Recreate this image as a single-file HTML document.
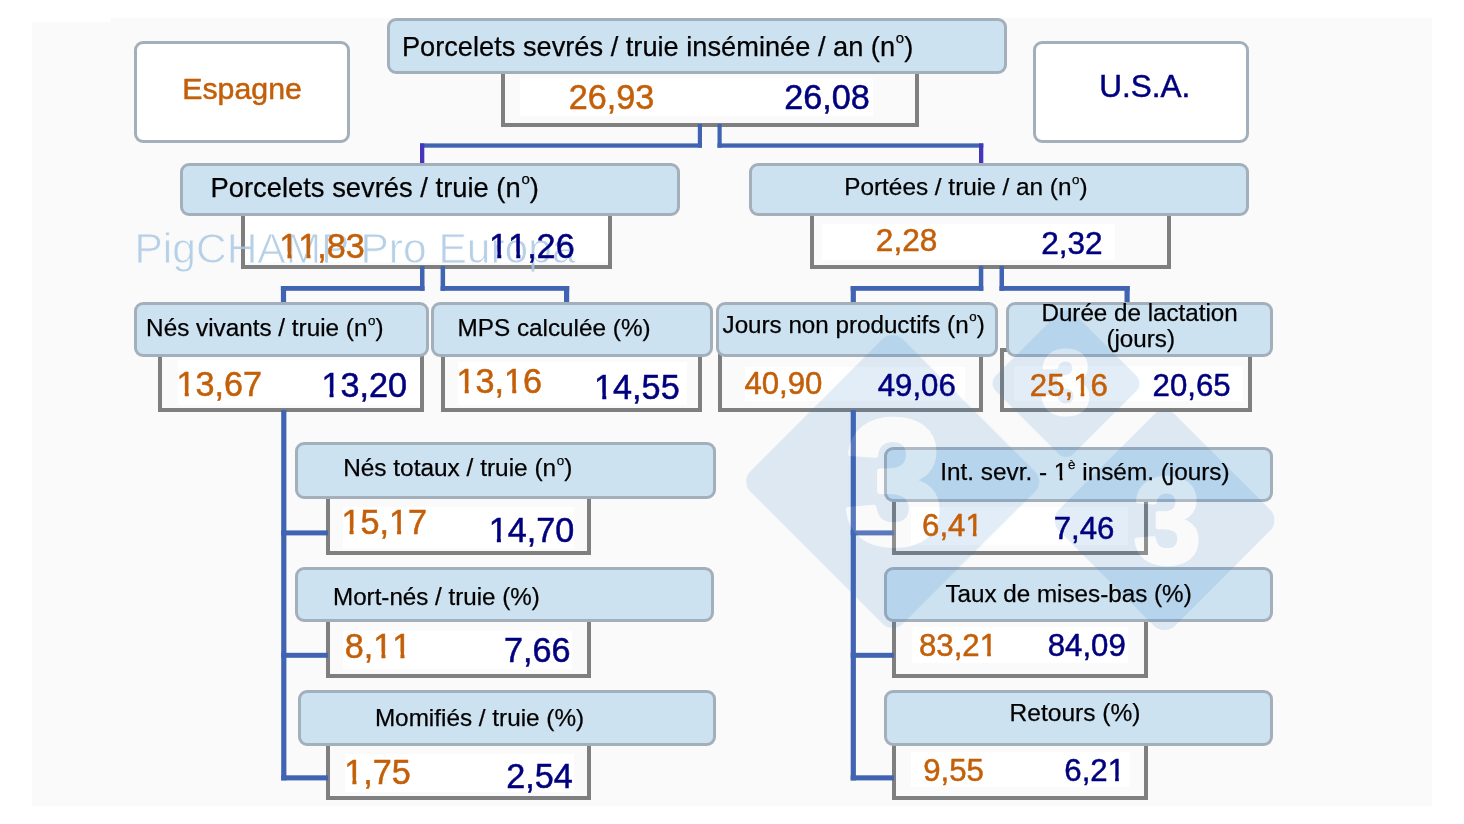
<!DOCTYPE html>
<html lang="fr"><head><meta charset="utf-8"><title>PigCHAMP Pro Europa - Espagne / U.S.A.</title>
<style>
html,body{margin:0;padding:0;background:#fff;}
body{width:1464px;height:824px;position:relative;overflow:hidden;font-family:"Liberation Sans",sans-serif;}
.panel{position:absolute;left:32px;top:17.5px;width:1400px;height:788px;background:#fafafa;}
.lbl{position:absolute;box-sizing:border-box;background:#cde2f0;border:3.8px solid #a3b0bc;border-radius:9px;}
.val{position:absolute;box-sizing:border-box;border:4px solid #7f7f7f;}
.in{position:absolute;background:#fff;}
.cty{position:absolute;box-sizing:border-box;background:#fff;border:3.8px solid #a3b0bc;border-radius:9px;}
.t{position:absolute;white-space:nowrap;margin:0;}
.l{-webkit-text-stroke:0.25px currentColor;}
.v,.c{-webkit-text-stroke:0.5px currentColor;}
.o{display:inline-block;clip-path:polygon(0 0,100% 0,100% 66%,64% 66%,64% 100%,43% 100%,43% 66%,0 66%);}
.sup{font-size:55%;position:relative;top:-0.88em;margin-left:0.05em;}
.wm{position:absolute;white-space:nowrap;color:#b7d1e7;opacity:.8;}
svg{position:absolute;left:0;top:0;}
</style></head><body>
<div class="panel"></div>
<div style="position:absolute;left:32px;top:17px;width:78.5px;height:4.9px;background:#fff"></div>
<div class="cty" style="left:134px;top:41px;width:215.5px;height:101.5px"></div>
<div class="cty" style="left:1033px;top:41px;width:216px;height:101.5px"></div>
<div class="in" style="left:520px;top:77.7px;width:353px;height:37.9px"></div>
<div class="in" style="left:244.7px;top:216px;width:363.1px;height:46px"></div>
<div class="in" style="left:822px;top:224px;width:292.5px;height:36px"></div>
<div class="in" style="left:177.5px;top:360px;width:242.2px;height:45px"></div>
<div class="in" style="left:458px;top:362px;width:228.5px;height:43px"></div>
<div class="in" style="left:745px;top:366.7px;width:219.6px;height:34.3px"></div>
<div class="in" style="left:1014px;top:365.7px;width:228.6px;height:35.3px"></div>
<div class="in" style="left:343px;top:506.7px;width:231px;height:42.1px"></div>
<div class="in" style="left:343px;top:630.6px;width:229px;height:38.2px"></div>
<div class="in" style="left:344.9px;top:753.6px;width:229.4px;height:38.3px"></div>
<div class="in" style="left:910.9px;top:506.7px;width:217px;height:38.3px"></div>
<div class="in" style="left:911.8px;top:627px;width:216.1px;height:36px"></div>
<div class="in" style="left:911px;top:752px;width:218.5px;height:35px"></div>
<div class="val" style="left:501.4px;top:60px;width:417.4px;height:66.5px"></div>
<div class="val" style="left:240.7px;top:200px;width:371.1px;height:68.5px"></div>
<div class="val" style="left:810px;top:200px;width:360.5px;height:68.5px"></div>
<div class="val" style="left:158.3px;top:348px;width:265.4px;height:64px"></div>
<div class="val" style="left:440.8px;top:348px;width:261.5px;height:64px"></div>
<div class="val" style="left:718.3px;top:348px;width:264.4px;height:64px"></div>
<div class="val" style="left:999.8px;top:348px;width:252.4px;height:64px"></div>
<div class="val" style="left:326.1px;top:490px;width:264.5px;height:65.4px"></div>
<div class="val" style="left:326.1px;top:612px;width:264.5px;height:65.8px"></div>
<div class="val" style="left:326.1px;top:736px;width:264.5px;height:63.5px"></div>
<div class="val" style="left:892.1px;top:490px;width:256.2px;height:65.4px"></div>
<div class="val" style="left:892.1px;top:612px;width:256.2px;height:65.8px"></div>
<div class="val" style="left:892.1px;top:736px;width:256.2px;height:63.5px"></div>
<svg width="1464" height="824" viewBox="0 0 1464 824"><rect x="697.8" y="124" width="4.2" height="23.7" fill="#4064b2"/><rect x="717.5" y="124" width="4.2" height="23.7" fill="#4064b2"/><rect x="420" y="143.4" width="282" height="4.3" fill="#4064b2"/><rect x="717.5" y="143.4" width="265.8" height="4.3" fill="#4064b2"/><rect x="420" y="143.4" width="4.3" height="21.6" fill="#4336bc"/><rect x="979" y="143.4" width="4.3" height="21.6" fill="#4336bc"/><rect x="420" y="266" width="4.5" height="24.8" fill="#4064b2"/><rect x="440.6" y="266" width="4.5" height="24.8" fill="#4064b2"/><rect x="280.9" y="286" width="143.6" height="4.8" fill="#4064b2"/><rect x="440.6" y="286" width="128.6" height="4.8" fill="#4064b2"/><rect x="280.9" y="286" width="5.2" height="18" fill="#4064b2"/><rect x="564" y="286" width="5.2" height="18" fill="#4064b2"/><rect x="978.8" y="266" width="4.5" height="24.8" fill="#4064b2"/><rect x="999.5" y="266" width="4.5" height="24.8" fill="#4064b2"/><rect x="850.7" y="286" width="132.6" height="4.8" fill="#4064b2"/><rect x="999.5" y="286" width="130.2" height="4.8" fill="#4064b2"/><rect x="850.7" y="286" width="5.2" height="18" fill="#4064b2"/><rect x="1124.5" y="286" width="5.2" height="18" fill="#4064b2"/><rect x="281.2" y="410" width="5.2" height="370.4" fill="#4064b2"/><rect x="281.2" y="530.4" width="46.8" height="5" fill="#4064b2"/><rect x="281.2" y="652.8" width="46.8" height="5" fill="#4064b2"/><rect x="281.2" y="775.3" width="46.8" height="5.1" fill="#4064b2"/><rect x="850.7" y="410" width="5.2" height="370.4" fill="#4064b2"/><rect x="850.7" y="530.4" width="43.3" height="5" fill="#4064b2"/><rect x="850.7" y="652.8" width="43.3" height="5" fill="#4064b2"/><rect x="850.7" y="775.3" width="43.3" height="5.1" fill="#4064b2"/></svg>
<div class="lbl" style="left:387px;top:17.8px;width:619.5px;height:56.7px"></div>
<div class="lbl" style="left:180px;top:162.5px;width:500px;height:53.5px"></div>
<div class="lbl" style="left:749px;top:162.5px;width:500px;height:53.5px"></div>
<div class="lbl" style="left:134px;top:302px;width:294.5px;height:55px"></div>
<div class="lbl" style="left:430.5px;top:302px;width:282.5px;height:55px"></div>
<div class="lbl" style="left:716px;top:302px;width:281.5px;height:55px"></div>
<div class="lbl" style="left:1005.75px;top:302px;width:267.25px;height:55px"></div>
<div class="lbl" style="left:295px;top:442px;width:420.5px;height:57px"></div>
<div class="lbl" style="left:295px;top:566.5px;width:418.5px;height:55.25px"></div>
<div class="lbl" style="left:297.5px;top:690px;width:418px;height:55.5px"></div>
<div class="lbl" style="left:884px;top:446.5px;width:389px;height:55.5px"></div>
<div class="lbl" style="left:884px;top:566.5px;width:389px;height:55.25px"></div>
<div class="lbl" style="left:884px;top:690px;width:389px;height:55.5px"></div>
<svg width="1464" height="824" viewBox="0 0 1464 824"><g opacity="0.14"><g fill="#2f7fc8"><rect x="784.77" y="373.67" width="215.67" height="215.67" rx="14.5" transform="rotate(45 892.6 481.5)"/><rect x="1010.85" y="328.25" width="110.31" height="110.31" rx="11" transform="rotate(45 1066 383.4)"/><rect x="1082.40" y="438.10" width="164.19" height="164.19" rx="15" transform="rotate(45 1164.5 520.2)"/></g><g fill="#fff" font-family="Liberation Sans, sans-serif" font-weight="bold" text-anchor="middle" stroke="#fff" stroke-linejoin="round"><text x="894" y="542.6" font-size="176" stroke-width="6">3</text><text x="1066" y="414.4" font-size="90" stroke-width="3">3</text><text x="1167.3" y="563" font-size="120" stroke-width="4.5">3</text></g></g></svg>
<svg width="1464" height="824" viewBox="0 0 1464 824"><defs><mask id="wmm" maskUnits="userSpaceOnUse" x="120" y="215" width="480" height="70"><text x="134.5" y="263" font-family="Liberation Sans, sans-serif" font-size="43" textLength="441" lengthAdjust="spacingAndGlyphs" fill="#fff" stroke="#000" stroke-width="0.9">PigCHAMP Pro Europa</text></mask></defs><rect x="120" y="215" width="480" height="70" fill="#a9c8e3" opacity="0.85" mask="url(#wmm)"/></svg>
<div class="t c" id="t0" style="left:182.25px;top:74.35px;font-size:30.30px;line-height:30.30px;color:#c35f08">Espagne</div>
<div class="t c" id="t1" style="left:1099.35px;top:71.34px;font-size:31.50px;line-height:31.50px;color:#00007e">U.S.A.</div>
<div class="t l" id="t2" style="left:401.90px;top:32.96px;font-size:27.22px;line-height:27.22px;color:#000">Porcelets sevrés / truie inséminée / an (n<span class="sup">o</span>)</div>
<div class="t l" id="t3" style="left:210.50px;top:173.83px;font-size:27.37px;line-height:27.37px;color:#000">Porcelets sevrés / truie (n<span class="sup">o</span>)</div>
<div class="t l" id="t4" style="left:844.25px;top:175.40px;font-size:24.34px;line-height:24.34px;color:#000">Portées / truie / an (n<span class="sup">o</span>)</div>
<div class="t l" id="t5" style="left:146.10px;top:316.44px;font-size:24.29px;line-height:24.29px;color:#000">Nés vivants / truie (n<span class="sup">o</span>)</div>
<div class="t l" id="t6" style="left:457.50px;top:316.43px;font-size:24.30px;line-height:24.30px;color:#000">MPS calculée (%)</div>
<div class="t l" id="t7" style="left:722.55px;top:312.52px;font-size:24.19px;line-height:24.19px;color:#000">Jours non productifs (n<span class="sup">o</span>)</div>
<div class="t l" id="t8" style="left:1041.45px;top:300.52px;font-size:24.19px;line-height:24.19px;color:#000">Durée de lactation</div>
<div class="t l" id="t9" style="left:1106.40px;top:326.51px;font-size:24.21px;line-height:24.21px;color:#000">(jours)</div>
<div class="t l" id="t10" style="left:343.15px;top:456.34px;font-size:24.41px;line-height:24.41px;color:#000">Nés totaux / truie (n<span class="sup">o</span>)</div>
<div class="t l" id="t11" style="left:333.00px;top:584.53px;font-size:24.18px;line-height:24.18px;color:#000">Mort-nés / truie (%)</div>
<div class="t l" id="t12" style="left:374.88px;top:706.43px;font-size:24.30px;line-height:24.30px;color:#000">Momifiés / truie (%)</div>
<div class="t l" id="t13" style="left:940.30px;top:460.40px;font-size:24.34px;line-height:24.34px;color:#000">Int. sevr. - <span class="o">1</span><span class="sup">è</span> insém. (jours)</div>
<div class="t l" id="t14" style="left:945.40px;top:581.50px;font-size:24.22px;line-height:24.22px;color:#000">Taux de mises-bas (%)</div>
<div class="t l" id="t15" style="left:1009.62px;top:701.24px;font-size:24.52px;line-height:24.52px;color:#000">Retours (%)</div>
<div class="t v" id="t16" style="left:568.75px;top:80.05px;font-size:34.20px;line-height:34.20px;color:#c35f08">26,93</div>
<div class="t v" id="t17" style="left:784.15px;top:80.05px;font-size:34.20px;line-height:34.20px;color:#00007e">26,08</div>
<div class="t v" id="t18" style="left:279.30px;top:229.05px;font-size:34.20px;line-height:34.20px;color:#c35f08"><span class="o">1</span><span class="o">1</span>,83</div>
<div class="t v" id="t19" style="left:489.10px;top:229.05px;font-size:34.20px;line-height:34.20px;color:#00007e"><span class="o">1</span><span class="o">1</span>,26</div>
<div class="t v" id="t20" style="left:875.85px;top:225.25px;font-size:31.60px;line-height:31.60px;color:#c35f08">2,28</div>
<div class="t v" id="t21" style="left:1041.20px;top:228.25px;font-size:31.60px;line-height:31.60px;color:#00007e">2,32</div>
<div class="t v" id="t22" style="left:176.55px;top:367.05px;font-size:34.20px;line-height:34.20px;color:#c35f08"><span class="o">1</span>3,67</div>
<div class="t v" id="t23" style="left:321.40px;top:368.05px;font-size:34.20px;line-height:34.20px;color:#00007e"><span class="o">1</span>3,20</div>
<div class="t v" id="t24" style="left:456.55px;top:364.05px;font-size:34.20px;line-height:34.20px;color:#c35f08"><span class="o">1</span>3,<span class="o">1</span>6</div>
<div class="t v" id="t25" style="left:594.10px;top:370.05px;font-size:34.20px;line-height:34.20px;color:#00007e"><span class="o">1</span>4,55</div>
<div class="t v" id="t26" style="left:744.40px;top:367.59px;font-size:31.20px;line-height:31.20px;color:#c35f08">40,90</div>
<div class="t v" id="t27" style="left:877.75px;top:369.59px;font-size:31.20px;line-height:31.20px;color:#00007e">49,06</div>
<div class="t v" id="t28" style="left:1029.85px;top:369.59px;font-size:31.20px;line-height:31.20px;color:#c35f08">25,<span class="o">1</span>6</div>
<div class="t v" id="t29" style="left:1152.55px;top:369.59px;font-size:31.20px;line-height:31.20px;color:#00007e">20,65</div>
<div class="t v" id="t30" style="left:341.40px;top:505.05px;font-size:34.20px;line-height:34.20px;color:#c35f08"><span class="o">1</span>5,<span class="o">1</span>7</div>
<div class="t v" id="t31" style="left:488.70px;top:513.05px;font-size:34.20px;line-height:34.20px;color:#00007e"><span class="o">1</span>4,70</div>
<div class="t v" id="t32" style="left:344.75px;top:629.05px;font-size:34.20px;line-height:34.20px;color:#c35f08">8,<span class="o">1</span><span class="o">1</span></div>
<div class="t v" id="t33" style="left:504.00px;top:633.05px;font-size:34.20px;line-height:34.20px;color:#00007e">7,66</div>
<div class="t v" id="t34" style="left:344.25px;top:755.05px;font-size:34.20px;line-height:34.20px;color:#c35f08"><span class="o">1</span>,75</div>
<div class="t v" id="t35" style="left:506.35px;top:759.05px;font-size:34.20px;line-height:34.20px;color:#00007e">2,54</div>
<div class="t v" id="t36" style="left:922.05px;top:509.59px;font-size:31.20px;line-height:31.20px;color:#c35f08">6,4<span class="o">1</span></div>
<div class="t v" id="t37" style="left:1053.75px;top:512.59px;font-size:31.20px;line-height:31.20px;color:#00007e">7,46</div>
<div class="t v" id="t38" style="left:919.00px;top:629.59px;font-size:31.20px;line-height:31.20px;color:#c35f08">83,2<span class="o">1</span></div>
<div class="t v" id="t39" style="left:1047.75px;top:629.59px;font-size:31.20px;line-height:31.20px;color:#00007e">84,09</div>
<div class="t v" id="t40" style="left:923.25px;top:754.59px;font-size:31.20px;line-height:31.20px;color:#c35f08">9,55</div>
<div class="t v" id="t41" style="left:1064.30px;top:754.59px;font-size:31.20px;line-height:31.20px;color:#00007e">6,2<span class="o">1</span></div>
</body></html>
